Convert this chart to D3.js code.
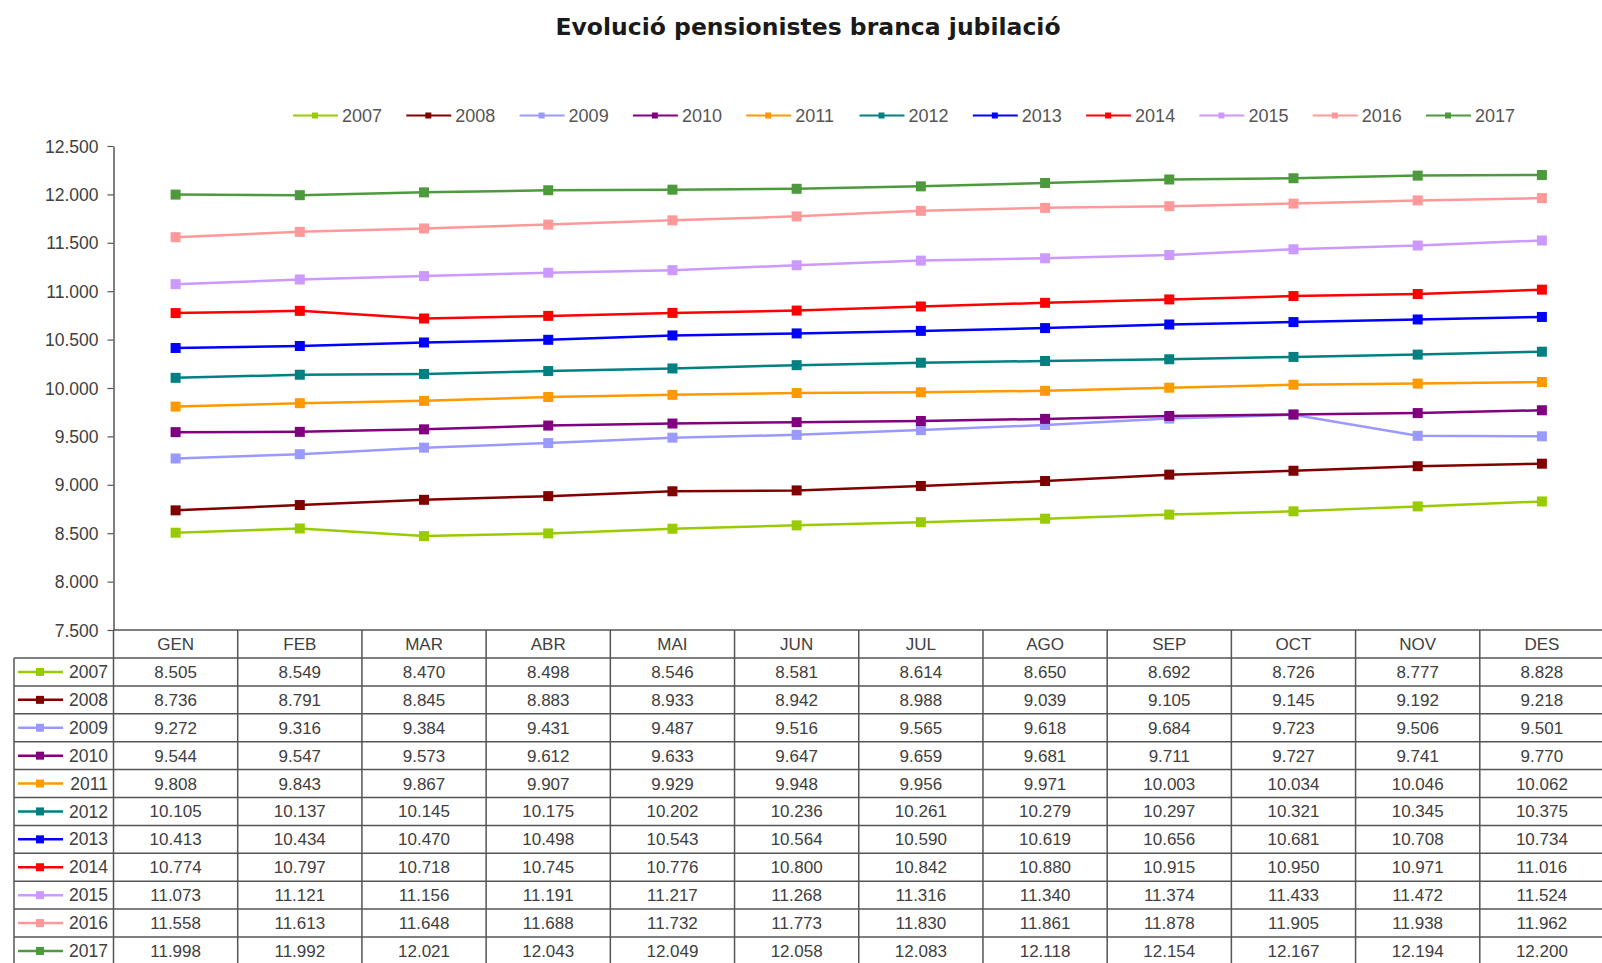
<!DOCTYPE html>
<html><head><meta charset="utf-8">
<script src="https://cdn.jsdelivr.net/npm/d3@7"></script>
<style>
html,body{margin:0;padding:0;background:#fff;}
svg{display:block;font-family:Arial,"Liberation Sans",sans-serif;}
</style></head>
<body><svg id="c" width="1602" height="963"></svg>
<script>
const months = ["GEN","FEB","MAR","ABR","MAI","JUN","JUL","AGO","SEP","OCT","NOV","DES"];
const years = ["2007","2008","2009","2010","2011","2012","2013","2014","2015","2016","2017"];
const colors = ["#99cc00","#800000","#9999ff","#800080","#ff9900","#008080","#0000ff","#ff0000","#cc99ff","#ff9999","#4c9a3c"];
const v2007 = [8505,8549,8470,8498,8546,8581,8614,8650,8692,8726,8777,8828];
const v2008 = [8736,8791,8845,8883,8933,8942,8988,9039,9105,9145,9192,9218];
const v2009 = [9272,9316,9384,9431,9487,9516,9565,9618,9684,9723,9506,9501];
const v2010 = [9544,9547,9573,9612,9633,9647,9659,9681,9711,9727,9741,9770];
const v2011 = [9808,9843,9867,9907,9929,9948,9956,9971,10003,10034,10046,10062];
const v2012 = [10105,10137,10145,10175,10202,10236,10261,10279,10297,10321,10345,10375];
const v2013 = [10413,10434,10470,10498,10543,10564,10590,10619,10656,10681,10708,10734];
const v2014 = [10774,10797,10718,10745,10776,10800,10842,10880,10915,10950,10971,11016];
const v2015 = [11073,11121,11156,11191,11217,11268,11316,11340,11374,11433,11472,11524];
const v2016 = [11558,11613,11648,11688,11732,11773,11830,11861,11878,11905,11938,11962];
const v2017 = [11998,11992,12021,12043,12049,12058,12083,12118,12154,12167,12194,12200];
const yTicks = [7500,8000,8500,9000,9500,10000,10500,11000,11500,12000,12500];
const title = "Evolució pensionistes branca jubilació";

(function(){
const seriesVals = [v2007,v2008,v2009,v2010,v2011,v2012,v2013,v2014,v2015,v2016,v2017];
const series = years.map((y,i)=>({year:y,color:colors[i],values:seriesVals[i]}));

const loc = d3.formatLocale({decimal:",",thousands:".",grouping:[3],currency:["","€"]});
const fmt = loc.format(",d");

const svg = d3.select("#c");
const pl = 113.5, pr = 1604, pt = 146, pb = 630;
const x = d3.scaleBand().domain(months).range([pl,pr]).padding(0);
const y = d3.scaleLinear().domain([7500,12500]).range([pb,pt]);
const textCol = "#404040";

// title
svg.append("text").attr("x",808).attr("y",35).attr("text-anchor","middle")
  .attr("font-family","'DejaVu Sans',Verdana,sans-serif")
  .attr("font-size",23.5).attr("font-weight","bold").attr("fill","#1a1a1a").text(title);

// legend
const lg = svg.append("g").attr("transform","translate(293,115.5)");
const li = lg.selectAll("g").data(series).join("g").attr("transform",(d,i)=>`translate(${i*113.3},0)`);
li.append("line").attr("x1",0).attr("x2",45).attr("stroke",d=>d.color).attr("stroke-width",2);
li.append("rect").attr("x",19).attr("y",-3).attr("width",6).attr("height",6).attr("fill",d=>d.color);
li.append("text").attr("x",49).attr("y",6.5).attr("font-size",18).attr("fill","#555").text(d=>d.year);

// y axis
const ya = d3.axisLeft(y).tickValues(yTicks).tickFormat(fmt).tickSize(6).tickSizeOuter(0);
const yg = svg.append("g").attr("transform",`translate(${pl},0)`).call(ya);
yg.select(".domain").attr("stroke","#555").attr("stroke-width",1.5);
yg.selectAll(".tick line").attr("stroke","#555").attr("stroke-width",1.2);
yg.selectAll(".tick text").attr("font-size",17.5).attr("fill",textCol).attr("x",-15).attr("dy","0.35em").attr("font-family","Arial,'Liberation Sans',sans-serif");

// lines
const line = d3.line().x((d,i)=>x(months[i])+x.bandwidth()/2).y(d=>y(d));
const sg = svg.append("g").selectAll("g").data(series).join("g");
sg.append("path").attr("d",d=>line(d.values)).attr("fill","none").attr("stroke",d=>d.color).attr("stroke-width",2.5);
sg.selectAll("rect").data(d=>d.values.map((v,i)=>({v,i,c:d.color}))).join("rect")
  .attr("x",d=>x(months[d.i])+x.bandwidth()/2-5).attr("y",d=>y(d.v)-5)
  .attr("width",10).attr("height",10).attr("fill",d=>d.c);

// data table
const headerH = 28, rowH = 27.9, keyLeft = 14;
const tg = svg.append("g");
const rowTop = i => pb + headerH + i*rowH;
const gridCol = "#555";
tg.append("line").attr("x1",pl).attr("x2",pr).attr("y1",pb).attr("y2",pb).attr("stroke",gridCol).attr("stroke-width",1.5);
const hl = d3.range(years.length+1);
tg.selectAll("line.h").data(hl).join("line").attr("class","h")
  .attr("x1",keyLeft).attr("x2",pr).attr("y1",i=>rowTop(i)).attr("y2",i=>rowTop(i))
  .attr("stroke",gridCol).attr("stroke-width",1.5);
tg.selectAll("line.v").data(months).join("line").attr("class","v")
  .attr("x1",d=>x(d)).attr("x2",d=>x(d)).attr("y1",pb).attr("y2",rowTop(years.length))
  .attr("stroke",gridCol).attr("stroke-width",1.5);
tg.append("line").attr("x1",keyLeft).attr("x2",keyLeft).attr("y1",rowTop(0)).attr("y2",rowTop(years.length))
  .attr("stroke",gridCol).attr("stroke-width",1.5);
tg.selectAll("text.m").data(months).join("text").attr("class","m")
  .attr("x",d=>x(d)+x.bandwidth()/2).attr("y",pb+headerH/2).attr("dy","0.35em")
  .attr("text-anchor","middle").attr("font-size",17).attr("fill",textCol).text(d=>d);
const rg = tg.selectAll("g.r").data(series).join("g").attr("class","r")
  .attr("transform",(d,i)=>`translate(0,${rowTop(i)+rowH/2})`);
rg.append("line").attr("x1",18).attr("x2",63).attr("stroke",d=>d.color).attr("stroke-width",2.5);
rg.append("rect").attr("x",36).attr("y",-4).attr("width",8).attr("height",8).attr("fill",d=>d.color);
rg.append("text").attr("x",108).attr("dy","0.35em").attr("text-anchor","end").attr("font-size",17.5).attr("fill",textCol).text(d=>d.year);
rg.selectAll("text.v").data(d=>d.values).join("text").attr("class","v")
  .attr("x",(d,i)=>x(months[i])+x.bandwidth()/2).attr("dy","0.35em").attr("text-anchor","middle")
  .attr("font-size",17).attr("fill",textCol).text(d=>fmt(d));
})();
</script></body></html>
